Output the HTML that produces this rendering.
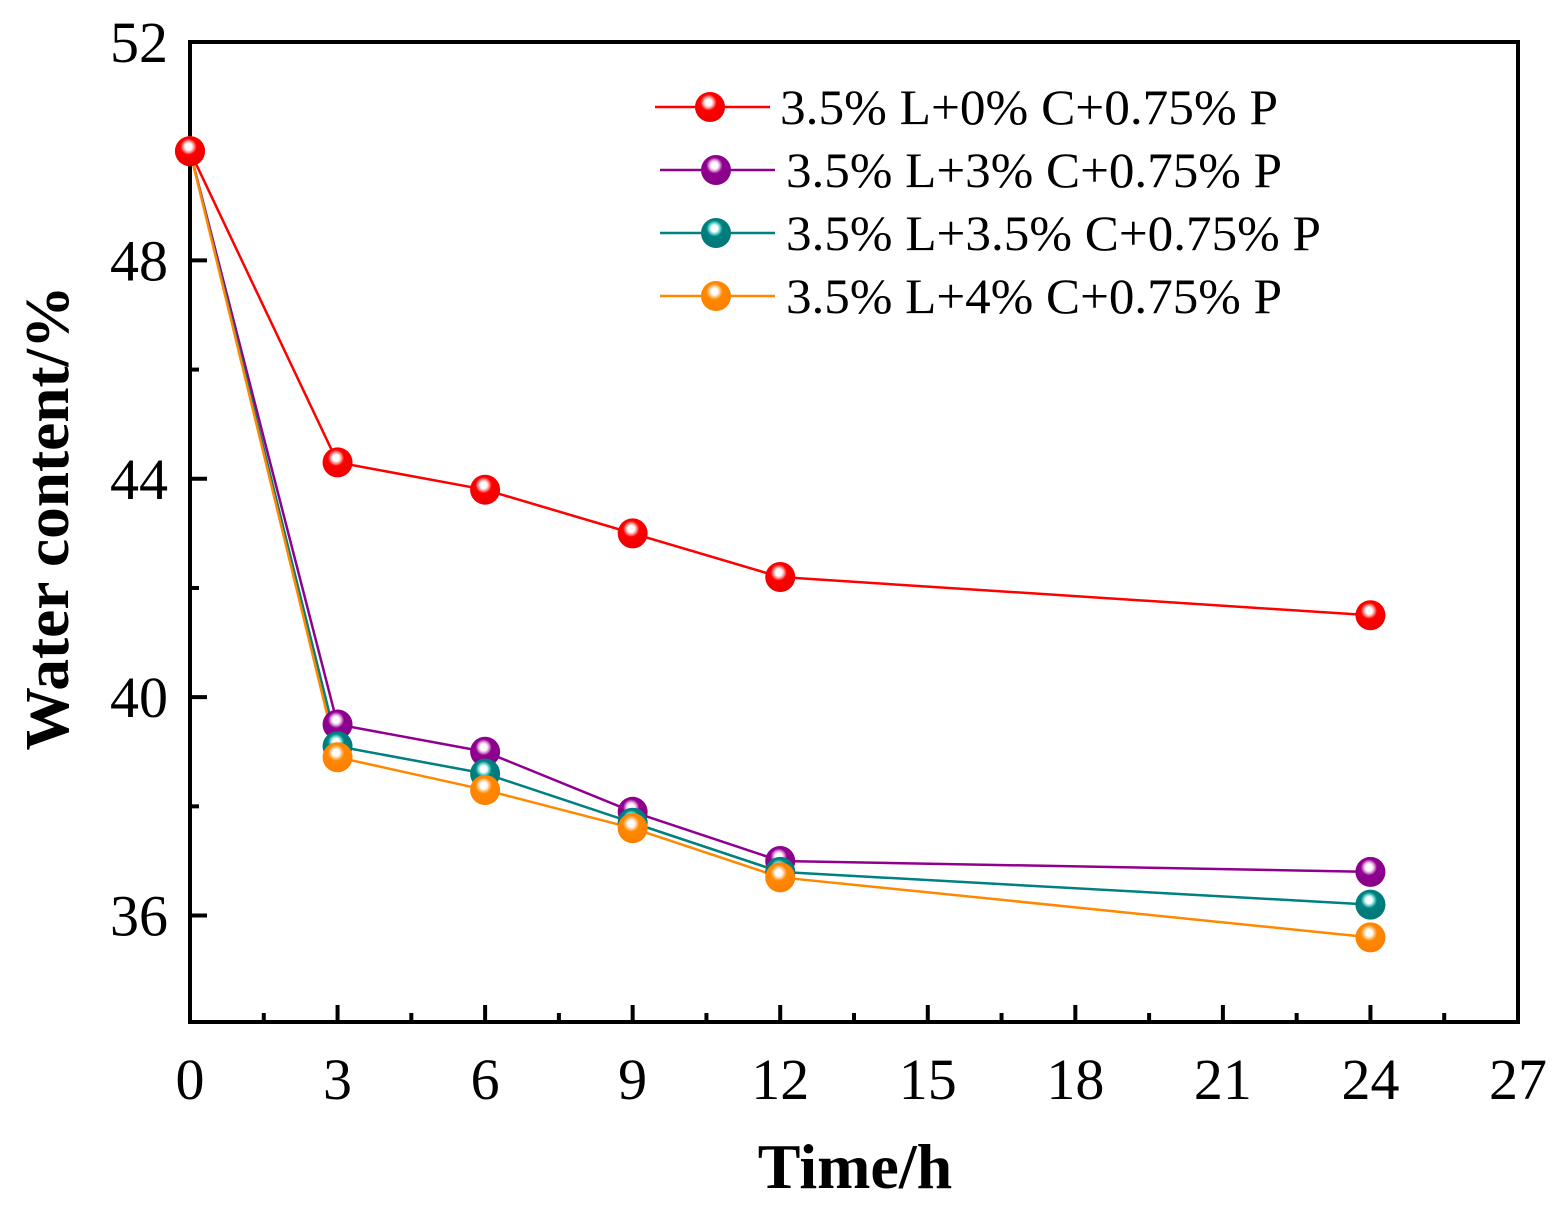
<!DOCTYPE html>
<html><head><meta charset="utf-8"><style>
html,body{margin:0;padding:0;background:#fff;}
svg{display:block;}
text{font-family:"Liberation Serif",serif;fill:#000;}
</style></head><body>
<svg id="chart" width="1564" height="1218" viewBox="0 0 1564 1218" xmlns="http://www.w3.org/2000/svg">
<defs>
<radialGradient id="g-red" cx="0.45" cy="0.35" r="0.6"><stop offset="0" stop-color="#fff"/><stop offset="0.18" stop-color="#fff"/><stop offset="0.3" stop-color="#ff9a9a"/><stop offset="0.45" stop-color="#ff0000"/><stop offset="1" stop-color="#ee0000"/></radialGradient>
<radialGradient id="g-purple" cx="0.45" cy="0.35" r="0.6"><stop offset="0" stop-color="#fff"/><stop offset="0.18" stop-color="#fff"/><stop offset="0.3" stop-color="#e0a0d8"/><stop offset="0.45" stop-color="#900090"/><stop offset="1" stop-color="#880088"/></radialGradient>
<radialGradient id="g-teal" cx="0.45" cy="0.35" r="0.6"><stop offset="0" stop-color="#fff"/><stop offset="0.18" stop-color="#fff"/><stop offset="0.3" stop-color="#70d8d0"/><stop offset="0.45" stop-color="#008080"/><stop offset="1" stop-color="#007878"/></radialGradient>
<radialGradient id="g-orange" cx="0.45" cy="0.35" r="0.6"><stop offset="0" stop-color="#fff"/><stop offset="0.18" stop-color="#fff"/><stop offset="0.3" stop-color="#ffc890"/><stop offset="0.45" stop-color="#ff8800"/><stop offset="1" stop-color="#ff8000"/></radialGradient>
</defs>
<g id="plot"></g>
</svg>
<script>
const times = [0, 3, 6, 9, 12, 24];
const seriesNames = ["3.5% L+0% C+0.75% P","3.5% L+3% C+0.75% P","3.5% L+3.5% C+0.75% P","3.5% L+4% C+0.75% P"];
const redValues = [50, 44.3, 43.8, 43.0, 42.2, 41.5];
const purpleValues = [50, 39.5, 39.0, 37.9, 37.0, 36.8];
const tealValues = [50, 39.1, 38.6, 37.7, 36.8, 36.2];
const orangeValues = [50, 38.9, 38.3, 37.6, 36.7, 35.6];
const xTicks = [0,3,6,9,12,15,18,21,24,27];
const yTicks = [36,40,44,48,52];

const L=190,R=1518,T=42,B=1022,XMIN=0,XMAX=27,YMIN=34.05,YMAX=52;
const xs=v=>L+(v-XMIN)/(XMAX-XMIN)*(R-L);
const ys=v=>B-(v-YMIN)/(YMAX-YMIN)*(B-T);
const NS="http://www.w3.org/2000/svg";
const g=document.getElementById('plot');
function mk(tag,attrs,parent){const e=document.createElementNS(NS,tag);for(const k in attrs)e.setAttribute(k,attrs[k]);(parent||g).appendChild(e);return e;}

const frame=mk('rect',{x:L,y:T,width:R-L,height:B-T,fill:'none',stroke:'#000','stroke-width':4});



xTicks.forEach(t=>{
  const x=xs(t);
  const tk=mk('line',{x1:x,y1:B,x2:x,y2:B-17,stroke:'#000','stroke-width':4});
  
  
  const lb=mk('text',{x:x,y:1099,'font-size':58,'text-anchor':'middle'});
  lb.textContent=t;
  
  
  if(t<XMAX){
    const m=mk('line',{x1:xs(t+1.5),y1:B,x2:xs(t+1.5),y2:B-9,stroke:'#000','stroke-width':4});
    
    
  }
});
yTicks.forEach(t=>{
  const y=ys(t);
  const tk=mk('line',{x1:L,y1:y,x2:L+17,y2:y,stroke:'#000','stroke-width':4});
  
  
  const lb=mk('text',{x:168,y:y+20,'font-size':58,'text-anchor':'end'});
  lb.textContent=t;
  
  
  if(t-2>YMIN){
    const m=mk('line',{x1:L,y1:ys(t-2),x2:L+9,y2:ys(t-2),stroke:'#000','stroke-width':4});
    
    
  }
});

const xt=mk('text',{x:855,y:1188,'font-size':64,'font-weight':'bold','text-anchor':'middle'});
xt.textContent='Time/h';


const yt=mk('text',{x:0,y:0,'font-size':62,'font-weight':'bold','text-anchor':'middle',textLength:465,lengthAdjust:'spacingAndGlyphs',transform:'translate(68,518) rotate(-90)'});
yt.textContent='Water content/%';



const allSeries=[[redValues,'#ff0000','red'],[purpleValues,'#900090','purple'],[tealValues,'#008080','teal'],[orangeValues,'#ff8800','orange']];
const legY=[107,170,233,296];
const legX1=[655,660,660,660],legX2=[770,775,775,775],legMX=[710,716,716,716],legTX=[780,786,786,786];
const legW=[498,496,535,496];

allSeries.forEach(([vals,col,key],i)=>{
  const pts=vals.map((v,j)=>xs(times[j])+','+ys(v)).join(' ');
  const pl=mk('polyline',{points:pts,fill:'none',stroke:col,'stroke-width':2.5});
  
  
});
[1,2,3,0].forEach(i=>{
  const [vals,col,key]=allSeries[i];
  vals.forEach((v,j)=>{
    const c=mk('circle',{cx:xs(times[j]),cy:ys(v),r:15,fill:'url(#g-'+key+')'});
    
    
  });
});
allSeries.forEach(([vals,col,key],i)=>{
  const ln=mk('line',{x1:legX1[i],y1:legY[i],x2:legX2[i],y2:legY[i],stroke:col,'stroke-width':2.5});
  
  
  const c=mk('circle',{cx:legMX[i],cy:legY[i],r:15,fill:'url(#g-'+key+')'});
  
  
  const t=mk('text',{x:legTX[i],y:legY[i]+17,'font-size':50,textLength:legW[i],lengthAdjust:'spacingAndGlyphs'});
  t.textContent=seriesNames[i];
  
  
});
</script>
</body></html>
